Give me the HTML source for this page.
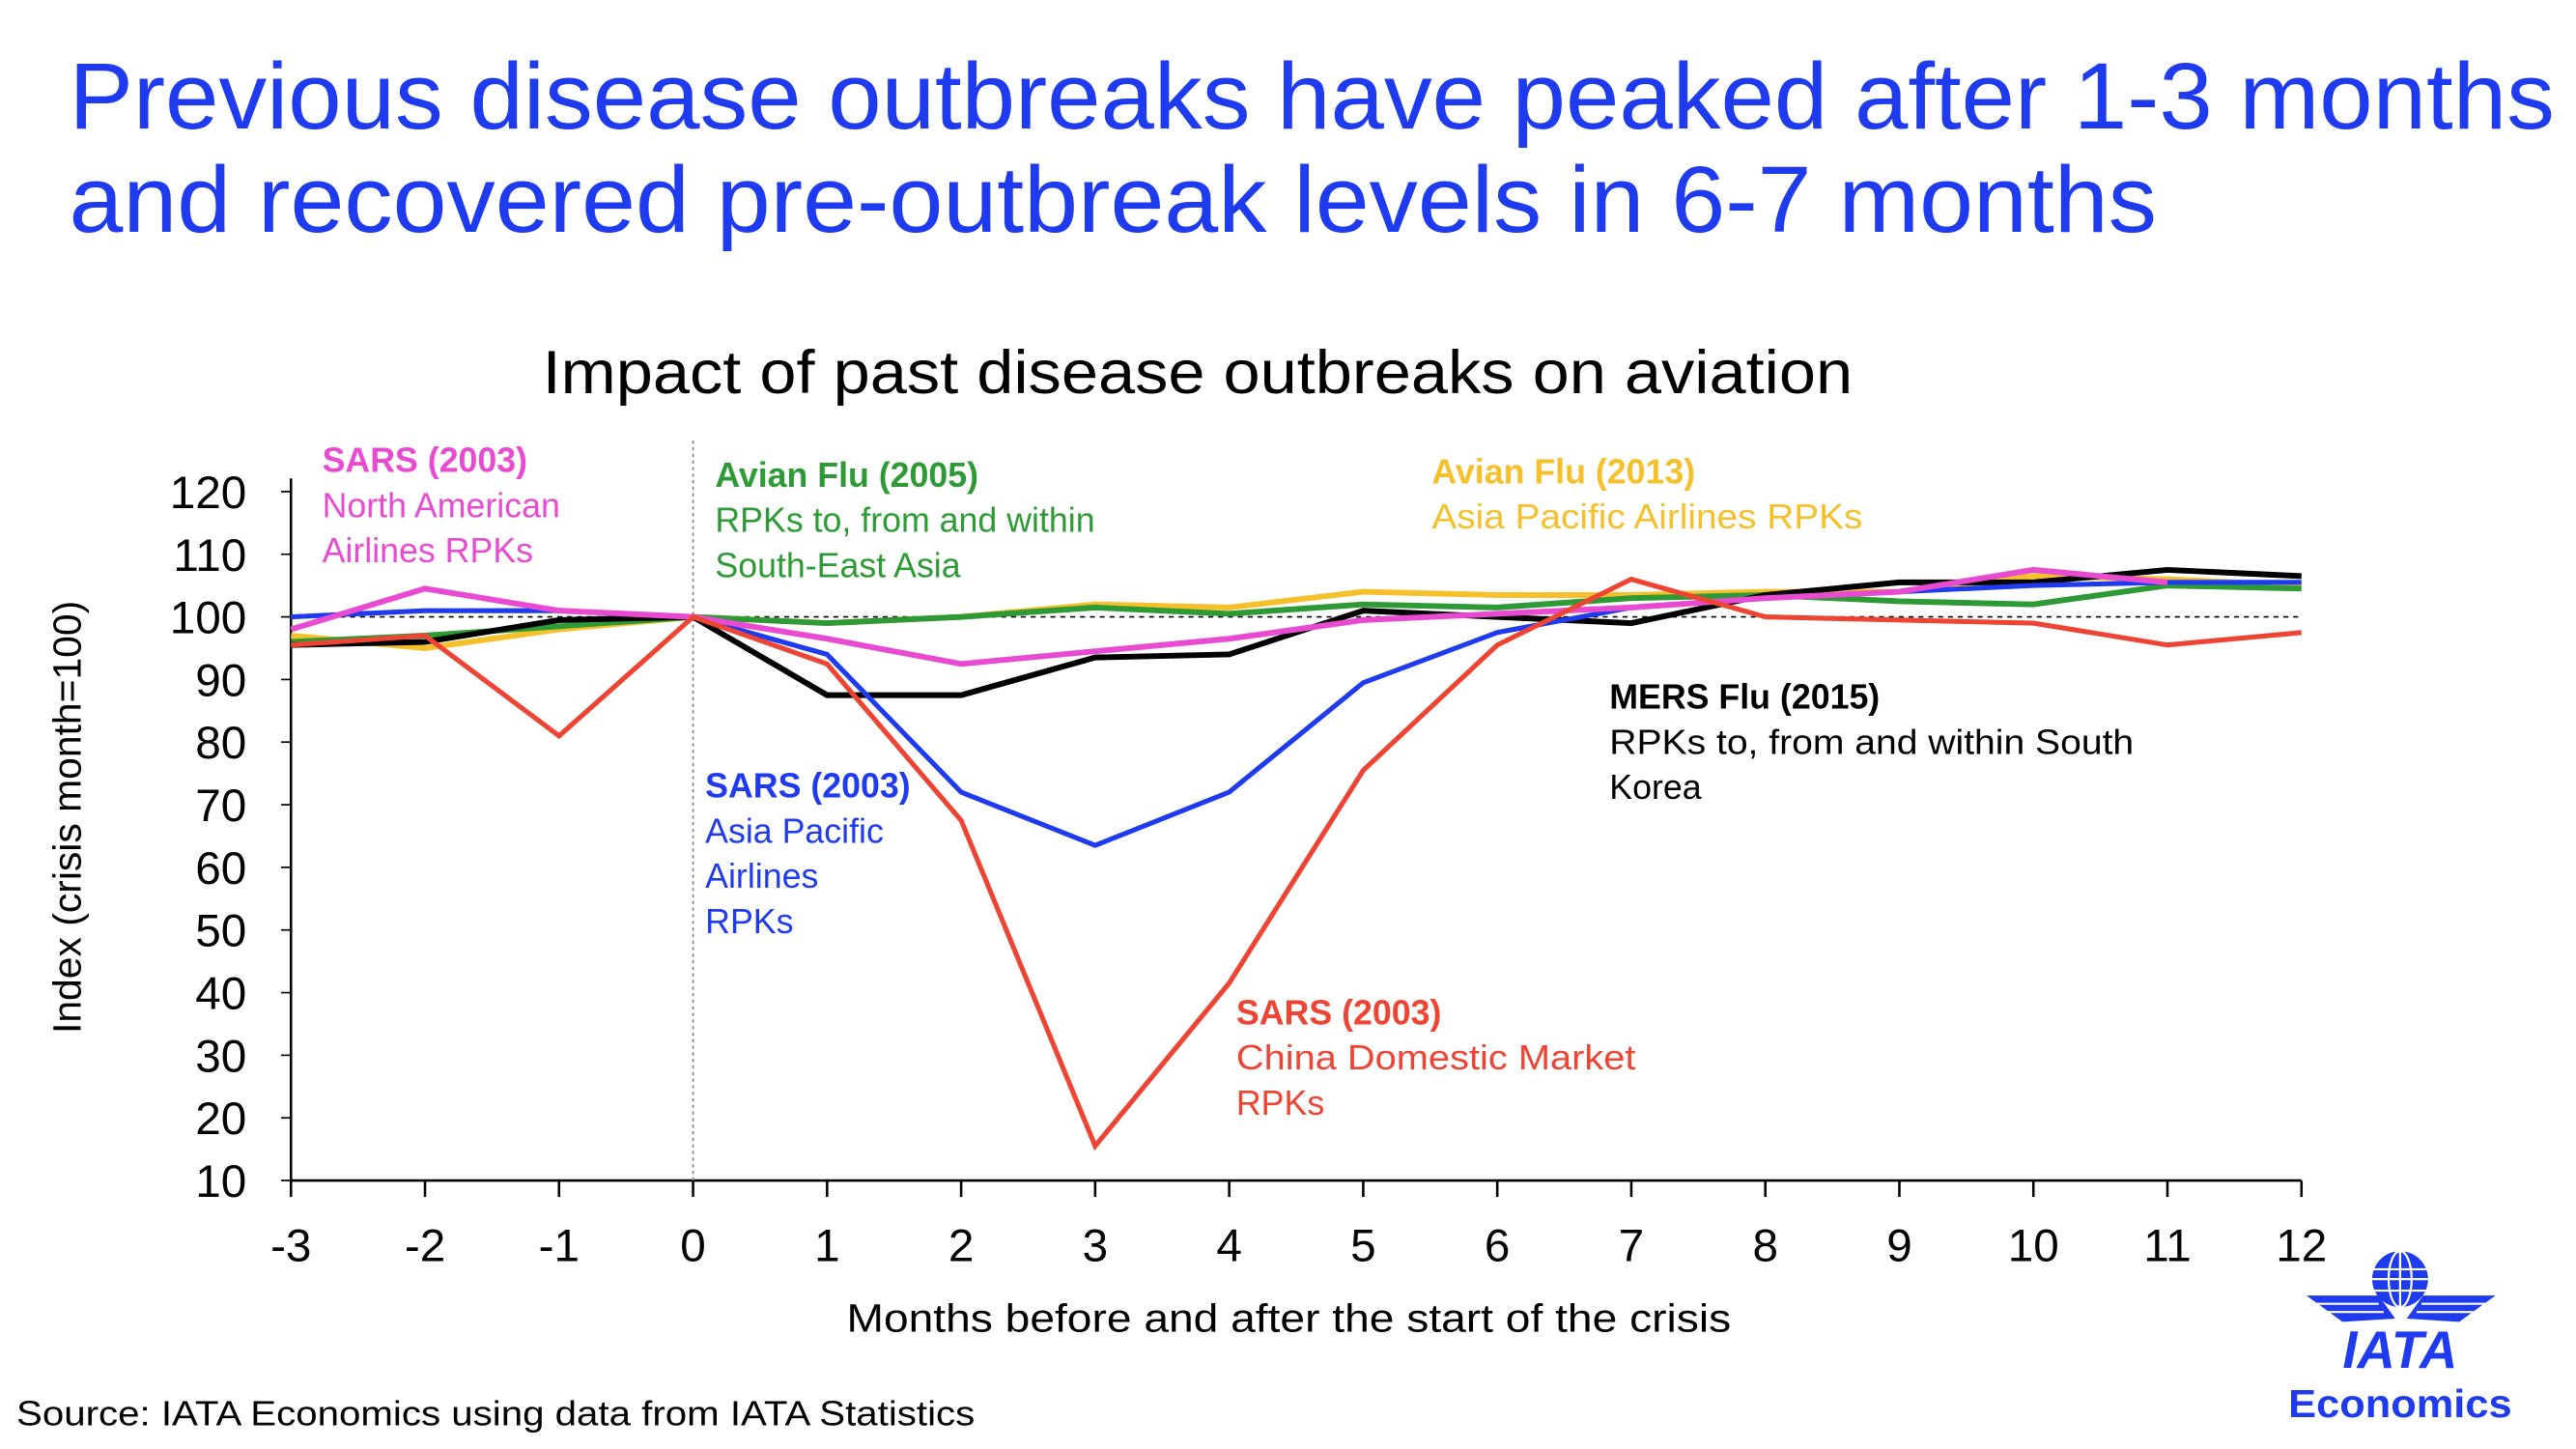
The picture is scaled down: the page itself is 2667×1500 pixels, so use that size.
<!DOCTYPE html>
<html><head><meta charset="utf-8"><style>
html,body{margin:0;padding:0;background:#fff;}
svg{display:block;font-family:"Liberation Sans",sans-serif;}
</style></head><body>
<svg id="chart" width="2667" height="1500" viewBox="0 0 1567 881.3" xmlns="http://www.w3.org/2000/svg">
<text x="42" y="78" font-size="57" fill="#1f3bef" textLength="1512" lengthAdjust="spacingAndGlyphs">Previous disease outbreaks have peaked after 1-3 months</text>
<text x="42" y="141" font-size="57" fill="#1f3bef" textLength="1270" lengthAdjust="spacingAndGlyphs">and recovered pre-outbreak levels in 6-7 months</text>
<text x="330" y="239" font-size="37" fill="#000" textLength="797" lengthAdjust="spacingAndGlyphs">Impact of past disease outbreaks on aviation</text>
<text transform="translate(49,497) rotate(-90)" font-size="24" text-anchor="middle">Index (crisis month=100)</text>
<text x="515" y="810" font-size="24" textLength="538" lengthAdjust="spacingAndGlyphs">Months before and after the start of the crisis</text>
<text x="10" y="867" font-size="21" textLength="583" lengthAdjust="spacingAndGlyphs">Source: IATA Economics using data from IATA Statistics</text>
<g id="axes"></g>
<g id="series"></g>
<g font-size="21">
<text x="196" y="287" fill="#e84bd2"><tspan font-weight="bold">SARS (2003)</tspan><tspan x="196" dy="27.5">North American</tspan><tspan x="196" dy="27.5">Airlines RPKs</tspan></text>
<text x="435" y="296" fill="#2e9a36"><tspan font-weight="bold">Avian Flu (2005)</tspan><tspan x="435" dy="27.5">RPKs to, from and within</tspan><tspan x="435" dy="27.5">South-East Asia</tspan></text>
<text x="871" y="294" fill="#f5c02a"><tspan font-weight="bold">Avian Flu (2013)</tspan><tspan x="871" dy="27.5" textLength="262" lengthAdjust="spacingAndGlyphs">Asia Pacific Airlines RPKs</tspan></text>
<text x="979" y="431" fill="#000"><tspan font-weight="bold">MERS Flu (2015)</tspan><tspan x="979" dy="27.5" textLength="319" lengthAdjust="spacingAndGlyphs">RPKs to, from and within South</tspan><tspan x="979" dy="27.5">Korea</tspan></text>
<text x="429" y="485" fill="#1f3bef"><tspan font-weight="bold">SARS (2003)</tspan><tspan x="429" dy="27.5">Asia Pacific</tspan><tspan x="429" dy="27.5">Airlines</tspan><tspan x="429" dy="27.5">RPKs</tspan></text>
<text x="752" y="623" fill="#ee4433"><tspan font-weight="bold">SARS (2003)</tspan><tspan x="752" dy="27.5" textLength="243" lengthAdjust="spacingAndGlyphs">China Domestic Market</tspan><tspan x="752" dy="27.5">RPKs</tspan></text>
</g>
<g fill="#1f3bef">
<circle cx="1460" cy="778" r="17"/>
<g stroke="#fff" stroke-width="1.3" fill="none">
<ellipse cx="1460" cy="778" rx="7" ry="17"/><line x1="1460" y1="761" x2="1460" y2="795"/>
<line x1="1444" y1="772" x2="1476" y2="772"/><line x1="1443" y1="778" x2="1477" y2="778"/><line x1="1444" y1="785" x2="1476" y2="785"/>
</g>
<path d="M1403 788 L1447 788 L1457 802 L1425 804 Z"/>
<path d="M1518 788 L1474 788 L1464 802 L1496 804 Z"/>
<g stroke="#fff" stroke-width="1.2"><line x1="1409" y1="793" x2="1447" y2="793"/><line x1="1415" y1="798" x2="1450" y2="798"/><line x1="1473" y1="793" x2="1512" y2="793"/><line x1="1470" y1="798" x2="1506" y2="798"/></g>
<text x="1460" y="832" font-size="32" font-weight="bold" font-style="italic" text-anchor="middle">IATA</text>
<text x="1460" y="862" font-size="24" font-weight="bold" text-anchor="middle" textLength="136" lengthAdjust="spacingAndGlyphs">Economics</text>
</g>
</svg>
<script>
const months = [-3,-2,-1,0,1,2,3,4,5,6,7,8,9,10,11,12];
const yTicks = [10,20,30,40,50,60,70,80,90,100,110,120];
const mersSK = [95.5,96,99.5,100,87.5,87.5,93.5,94,101,100,99,103.5,105.5,105.5,107.5,106.5];
const sarsAP = [100,101,101,100,94,72,63.5,72,89.5,97.5,101.5,103,104,105,105.5,105.5];
const sarsChina = [95.5,97,81,100,92.5,67.5,15.5,41.5,75.5,95.5,106,100,99.5,99,95.5,97.5];
const sarsNA = [98,104.5,101,100,96.5,92.5,94.5,96.5,99.5,100.5,101.5,103,104,107.5,105.5,null];
const avian2005 = [96,97,98.5,100,99,100,101.5,100.5,102,101.5,103,103.5,102.5,102,105,104.5];
const avian2013 = [97,95,98,100,99,100,102,101.5,104,103.5,103.5,104,104,106.5,106,105];

const NS="http://www.w3.org/2000/svg";
const X0=177,X1=1400,Y0=718,Y1=299;
function xs(m){return X0+(m-(-3))/15*(X1-X0);}
function ys(v){return Y0-(v-10)/110*(Y0-Y1);}
function mk(tag,attrs,parent){const e=document.createElementNS(NS,tag);for(const k in attrs)e.setAttribute(k,attrs[k]);parent.appendChild(e);return e;}
const ax=document.getElementById('axes');
let e;
e=mk('line',{x1:X0,y1:Y1-8,x2:X0,y2:Y0,stroke:'#000','stroke-width':1.5},ax);


e=mk('line',{x1:X0,y1:Y0,x2:X1,y2:Y0,stroke:'#000','stroke-width':1.5},ax);


e=mk('line',{x1:X0,y1:ys(100),x2:X1,y2:ys(100),stroke:'#000','stroke-width':1,'stroke-dasharray':'3,3'},ax);


e=mk('line',{x1:xs(0),y1:268,x2:xs(0),y2:Y0,stroke:'#888','stroke-width':1,'stroke-dasharray':'2,2'},ax);


yTicks.forEach(v=>{
  const t=mk('text',{x:150,y:ys(v)+10,'font-size':28,'text-anchor':'end'},ax);t.textContent=v;
  
  
  const l=mk('line',{x1:X0-6,y1:ys(v),x2:X0,y2:ys(v),stroke:'#000','stroke-width':1},ax);
  
  
});
months.forEach(m=>{
  const l=mk('line',{x1:xs(m),y1:Y0,x2:xs(m),y2:Y0+10,stroke:'#000','stroke-width':1.5},ax);
  
  
  const t=mk('text',{x:xs(m),y:767,'font-size':28,'text-anchor':'middle'},ax);t.textContent=m;
  
  
});
const sg=document.getElementById('series');
function line(vals,color,w,name){
  let d='';vals.forEach((v,i)=>{if(v==null)return;d+=(d?'L':'M')+xs(months[i]).toFixed(1)+' '+ys(v).toFixed(1)+' ';});
  const p=mk('path',{d:d,fill:'none',stroke:color,'stroke-width':w,'stroke-linejoin':'miter'},sg);
  
  
}
line(avian2013,'#f5c02a',3.5,'series-avian-flu-2013');
line(avian2005,'#2e9a36',3.5,'series-avian-flu-2005');
line(mersSK,'#000000',3.5,'series-mers-2015');
line(sarsAP,'#1f3bef',3,'series-sars-asia-pacific');
line(sarsNA,'#e84bd2',3.5,'series-sars-north-america');
line(sarsChina,'#ee4433',3,'series-sars-china');
</script>
</body></html>
